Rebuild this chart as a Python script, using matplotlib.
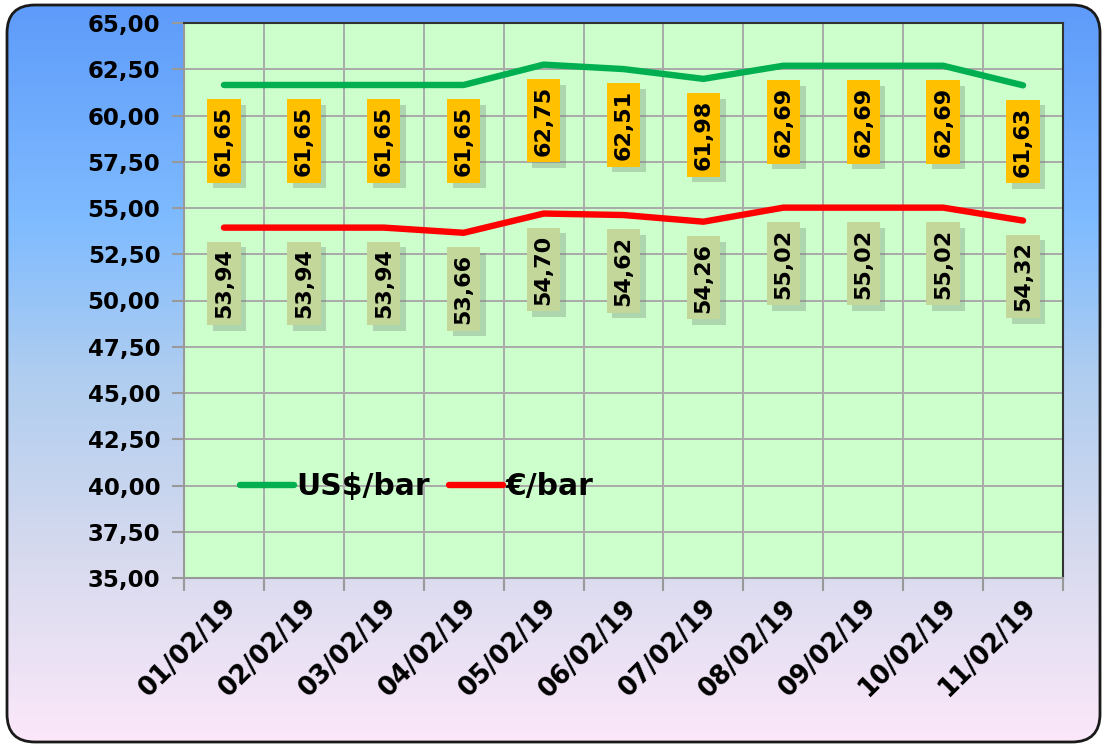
import numpy as np
import matplotlib
matplotlib.use("Agg")
import matplotlib.pyplot as plt
from matplotlib.patches import FancyBboxPatch
import matplotlib.patheffects as pe

# ---- data ----
dates = ["01/02/19", "02/02/19", "03/02/19", "04/02/19", "05/02/19", "06/02/19",
         "07/02/19", "08/02/19", "09/02/19", "10/02/19", "11/02/19"]
usd_bar = [61.65, 61.65, 61.65, 61.65, 62.75, 62.51, 61.98, 62.69, 62.69, 62.69, 61.63]
eur_bar = [53.94, 53.94, 53.94, 53.66, 54.70, 54.62, 54.26, 55.02, 55.02, 55.02, 54.32]
series_names = ["US$/bar", "€/bar"]
y_ticks = [35.0, 37.5, 40.0, 42.5, 45.0, 47.5, 50.0, 52.5, 55.0, 57.5, 60.0, 62.5, 65.0]

W, H = 1105, 744
fig = plt.figure(figsize=(W / 100, H / 100), dpi=100)
fig.patch.set_facecolor("white")

def px_x(x):
    return x / W

def px_y(y):
    return 1 - y / H

# ---- background rounded box with gradient ----
bg = fig.add_axes([0, 0, 1, 1], zorder=-5)
bg.set_xlim(0, W)
bg.set_ylim(H, 0)
bg.axis("off")
stops = [0.0, 0.3, 0.5, 0.75, 1.0]
cols = np.array([[94, 155, 250], [128, 188, 255], [175, 205, 240],
                 [215, 218, 238], [252, 232, 250]]) / 255
t = np.linspace(0, 1, 500)
grad = np.stack([np.interp(t, stops, cols[:, k]) for k in range(3)], axis=1)
img = np.repeat(grad[:, None, :], 2, axis=1)
im = bg.imshow(img, extent=[7, 1100, 742, 5], aspect="auto", interpolation="bilinear")
box = FancyBboxPatch((7 + 28, 5 + 28), 1100 - 7 - 56, 742 - 5 - 56,
                     boxstyle="round,pad=28", facecolor="none",
                     edgecolor="#1a1a1a", linewidth=2.0, zorder=3)
bg.add_patch(box)
im.set_clip_path(box)

# ---- main axes ----
left, right, top, bottom = 184, 1063, 23, 578
ax = fig.add_axes([px_x(left), px_y(bottom), (right - left) / W, (bottom - top) / H])
ax.set_facecolor("#CCFFCC")
x = np.arange(len(dates))
ax.set_xlim(-0.5, len(dates) - 0.5)
ax.set_ylim(35, 65)

ax.set_yticks(y_ticks)
ax.set_yticklabels([f"{v:.2f}".replace(".", ",") for v in y_ticks],
                   fontsize=16.5, fontweight="bold")
ax.set_xticks(np.arange(-0.5, len(dates), 1.0))
ax.set_xticklabels([])
ax.set_xticks(x, minor=True)
ax.set_xticklabels(dates, minor=True, rotation=45, ha="right", va="top",
                   rotation_mode="anchor", fontsize=18.5, fontweight="bold")
ax.tick_params(axis="x", which="minor", length=0, pad=12)
ax.tick_params(axis="both", which="major", length=9, width=1.5, color="#999999",
               direction="out")
ax.tick_params(axis="y", pad=8)
ax.grid(True, which="major", color="#AAAAAA", linewidth=1.4)
ax.set_axisbelow(True)
for s in ["left", "bottom"]:
    ax.spines[s].set_color("#999999")
    ax.spines[s].set_linewidth(1.5)
for s in ["top", "right"]:
    ax.spines[s].set_color("#333333")
    ax.spines[s].set_linewidth(1.5)

l1, = ax.plot(x, usd_bar, color="#00B050", linewidth=4.6, solid_capstyle="round",
              solid_joinstyle="round", label=series_names[0], zorder=3)
l2, = ax.plot(x, eur_bar, color="#FF0000", linewidth=4.6, solid_capstyle="round",
              solid_joinstyle="round", label=series_names[1], zorder=3)

def add_labels(vals, face):
    for xi, v in zip(x, vals):
        txt = ax.annotate(f"{v:.2f}".replace(".", ","), (xi, v), xytext=(0, -21),
                          textcoords="offset pixels", rotation=90, ha="center", va="top",
                          fontsize=16, fontweight="bold", color="black", zorder=5,
                          bbox=dict(boxstyle="square,pad=0.3", facecolor=face,
                                    edgecolor="none"))
        txt.get_bbox_patch().set_path_effects([
            pe.SimplePatchShadow(offset=(4, -4), shadow_rgbFace="#6a7a6a", alpha=0.3),
            pe.Normal()])

add_labels(usd_bar, "#FFC000")
add_labels(eur_bar, "#C4D79B")

leg = ax.legend(handles=[l1, l2], loc="center left",
                bbox_to_anchor=((240 - left) / (right - left), (bottom - 487) / (bottom - top)),
                ncol=2, frameon=False, prop=dict(weight="bold", size=21.5),
                handlelength=1.8, handletextpad=0.08, columnspacing=0.65,
                borderpad=0, borderaxespad=0)

fig.savefig("out.png", dpi=100, facecolor="white")
